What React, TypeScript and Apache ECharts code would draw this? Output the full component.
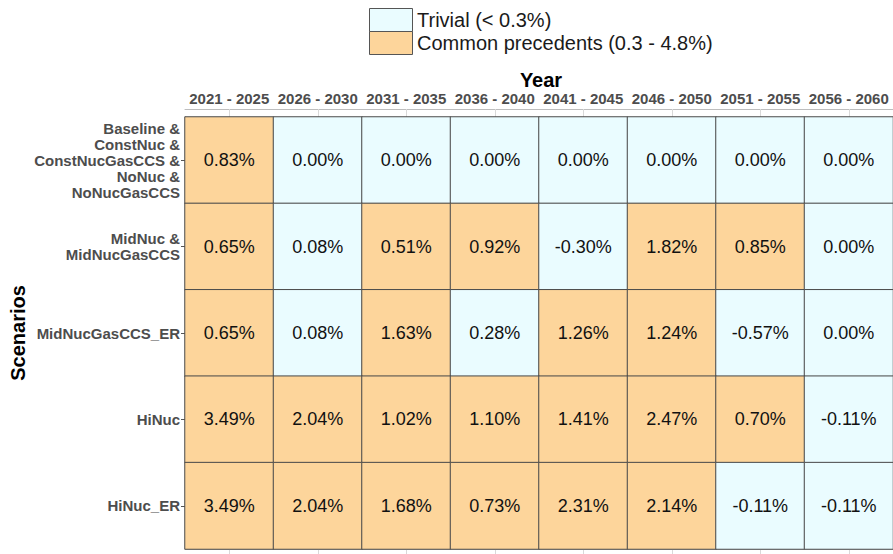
import React, { useEffect, useRef } from "react";
import * as echarts from "echarts";

const years = [
  "2021 - 2025",
  "2026 - 2030",
  "2031 - 2035",
  "2036 - 2040",
  "2041 - 2045",
  "2046 - 2050",
  "2051 - 2055",
  "2056 - 2060",
];

const scenarios = [
  "Baseline &\nConstNuc &\nConstNucGasCCS &\nNoNuc &\nNoNucGasCCS",
  "MidNuc &\nMidNucGasCCS",
  "MidNucGasCCS_ER",
  "HiNuc",
  "HiNuc_ER",
];

const baselineRow = [0.83, 0.0, 0.0, 0.0, 0.0, 0.0, 0.0, 0.0];
const midNucRow = [0.65, 0.08, 0.51, 0.92, -0.3, 1.82, 0.85, 0.0];
const midNucErRow = [0.65, 0.08, 1.63, 0.28, 1.26, 1.24, -0.57, 0.0];
const hiNucRow = [3.49, 2.04, 1.02, 1.1, 1.41, 2.47, 0.7, -0.11];
const hiNucErRow = [3.49, 2.04, 1.68, 0.73, 2.31, 2.14, -0.11, -0.11];

const rows = [baselineRow, midNucRow, midNucErRow, hiNucRow, hiNucErRow];

const legendLabels = ["Trivial (< 0.3%)", "Common precedents (0.3 - 4.8%)"];
const threshold = 0.3;

const TRIVIAL = "#EAFCFF";
const COMMON = "#FDD59B";
const FONT = "'Liberation Sans', Arial, sans-serif";

export default function App() {
  const ref = useRef<HTMLDivElement>(null);

  useEffect(() => {
    document.body.style.margin = "0";
    if (!ref.current) return;
    const chart = echarts.init(ref.current, undefined, { renderer: "svg" });

    const data: [number, number, number][] = [];
    rows.forEach((r, yi) => r.forEach((v, xi) => data.push([xi, yi, v])));

    const option: any = {
      animation: false,
      backgroundColor: "#ffffff",
      textStyle: { fontFamily: FONT },
      grid: { left: 185, top: 117, width: 712, height: 432 },
      xAxis: [
        {
          type: "category",
          data: years,
          position: "top",
          offset: 8,
          axisLine: { show: true, lineStyle: { color: "#bdbdbd", width: 1 } },
          axisTick: {
            show: true,
            alignWithLabel: true,
            inside: true,
            length: 8,
            lineStyle: { color: "#d9d9d9" },
          },
          axisLabel: {
            interval: 0,
            margin: 3,
            color: "#4d4d4d",
            fontWeight: "bold",
            fontSize: 15,
            fontFamily: FONT,
          },
          splitLine: { show: false },
        },
        {
          type: "category",
          data: years,
          position: "bottom",
          axisLine: { show: true, lineStyle: { color: "#d0d0d0", width: 1 } },
          axisTick: {
            show: true,
            alignWithLabel: true,
            length: 6,
            lineStyle: { color: "#d9d9d9" },
          },
          axisLabel: { show: false },
        },
      ],
      yAxis: {
        type: "category",
        data: scenarios,
        inverse: true,
        axisLine: { show: true, lineStyle: { color: "#bdbdbd" } },
        axisTick: {
          show: true,
          alignWithLabel: true,
          length: 4,
          lineStyle: { color: "#555555" },
        },
        axisLabel: {
          interval: 0,
          margin: 5,
          color: "#4d4d4d",
          fontWeight: "bold",
          fontSize: 15,
          lineHeight: 16,
          align: "right",
          fontFamily: FONT,
        },
      },
      visualMap: {
        show: false,
        type: "piecewise",
        dimension: 2,
        seriesIndex: 0,
        pieces: [
          { lt: threshold, color: TRIVIAL },
          { gte: threshold, color: COMMON },
        ],
      },
      series: [
        {
          type: "heatmap",
          data,
          xAxisIndex: 0,
          yAxisIndex: 0,
          itemStyle: { borderColor: "#4a4a4a", borderWidth: 1 },
          label: {
            show: true,
            color: "#111111",
            fontSize: 18,
            fontFamily: FONT,
            formatter: (p: any) => p.value[2].toFixed(2) + "%",
          },
          emphasis: { disabled: true },
        },
      ],
      graphic: [
        {
          type: "rect",
          shape: { x: 369.5, y: 8.5, width: 43, height: 23 },
          style: { fill: TRIVIAL, stroke: "#555555", lineWidth: 1 },
        },
        {
          type: "rect",
          shape: { x: 369.5, y: 31.5, width: 43, height: 23 },
          style: { fill: COMMON, stroke: "#555555", lineWidth: 1 },
        },
        {
          type: "text",
          x: 417,
          y: 20,
          style: {
            text: legendLabels[0],
            fill: "#1a1a1a",
            font: `20px ${FONT}`,
            textVerticalAlign: "middle",
            verticalAlign: "middle",
          },
        },
        {
          type: "text",
          x: 417,
          y: 43,
          style: {
            text: legendLabels[1],
            fill: "#1a1a1a",
            font: `20px ${FONT}`,
            textVerticalAlign: "middle",
            verticalAlign: "middle",
          },
        },
        {
          type: "text",
          x: 541,
          y: 80,
          style: {
            text: "Year",
            fill: "#000000",
            font: `bold 20px ${FONT}`,
            align: "center",
            verticalAlign: "middle",
          },
        },
        {
          type: "text",
          x: 18,
          y: 333,
          rotation: Math.PI / 2,
          style: {
            text: "Scenarios",
            fill: "#000000",
            font: `bold 20px ${FONT}`,
            align: "center",
            verticalAlign: "middle",
          },
        },
      ],
    };

    chart.setOption(option);
    return () => chart.dispose();
  }, []);

  return (
    <div
      ref={ref}
      style={{ position: "fixed", left: 0, top: 0, width: 893, height: 554 }}
    />
  );
}
